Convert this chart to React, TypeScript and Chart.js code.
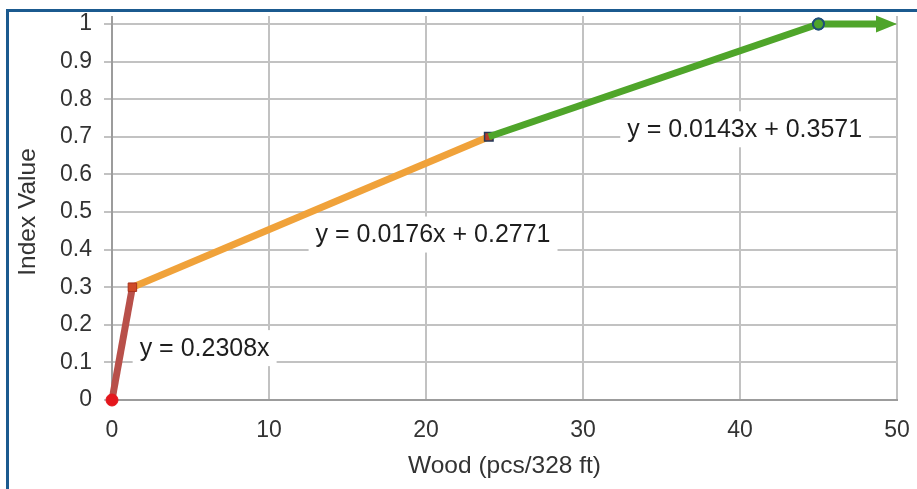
import React, { useEffect, useRef } from "react";
import { Chart, registerables } from "chart.js";

Chart.register(...registerables);

// ---- data ----
const redX = [0, 1.3];
const redY = [0, 0.3];
const orangeX = [1.3, 24];
const orangeY = [0.3, 0.7];
const greenX = [24, 45];
const greenY = [0.7, 1];
const arrowX = [45, 50];
const arrowY = [1, 1];
const equationTexts = ["y = 0.2308x", "y = 0.0176x + 0.2771", "y = 0.0143x + 0.3571"];
const xTicks = [0, 10, 20, 30, 40, 50];
const yTicks = [0, 0.1, 0.2, 0.3, 0.4, 0.5, 0.6, 0.7, 0.8, 0.9, 1];

const FONT = "'Liberation Sans', Arial, Helvetica, sans-serif";
const GRID = "#c2c2c2";
const AXIS = "#9c9c9c";
const RED = "#b8504a";
const ORANGE = "#f0a23a";
const GREEN = "#4fa52a";

const toPts = (xs: number[], ys: number[]) => xs.map((x, i) => ({ x, y: ys[i] }));

// annotation anchors (data coords)
const labelAnchors = [
  { x: 5.9, y: 0.138 },
  { x: 20.45, y: 0.44 },
  { x: 40.3, y: 0.72 },
];

const extrasPlugin = {
  id: "extras",
  beforeDatasetsDraw(chart: any) {
    const { ctx, chartArea, scales } = chart;
    const xs = scales.x;
    const ys = scales.y;
    ctx.save();
    ctx.lineWidth = 2;
    xTicks.forEach((t) => {
      const px = xs.getPixelForValue(t);
      ctx.strokeStyle = t === 0 ? AXIS : GRID;
      ctx.beginPath();
      ctx.moveTo(px, chartArea.top - 8);
      ctx.lineTo(px, chartArea.top);
      ctx.stroke();
    });
    ctx.font = `25px ${FONT}`;
    ctx.textAlign = "center";
    ctx.textBaseline = "middle";
    equationTexts.forEach((txt, i) => {
      const a = labelAnchors[i];
      const cx = xs.getPixelForValue(a.x);
      const cy = ys.getPixelForValue(a.y);
      const w = ctx.measureText(txt).width + 14;
      const h = 36;
      ctx.fillStyle = "#ffffff";
      ctx.fillRect(cx - w / 2, cy - h / 2, w, h);
      ctx.fillStyle = "#1e1e1e";
      ctx.fillText(txt, cx, cy + 1);
    });
    ctx.restore();
  },
  afterDatasetsDraw(chart: any) {
    const { ctx, scales } = chart;
    const xs = scales.x;
    const ys = scales.y;
    const x0 = xs.getPixelForValue(arrowX[0]);
    const y0 = ys.getPixelForValue(arrowY[0]);
    const x1 = xs.getPixelForValue(arrowX[1]);
    const y1 = ys.getPixelForValue(arrowY[1]);
    const headLen = 21;
    const headHalf = 8.5;
    ctx.save();
    ctx.strokeStyle = GREEN;
    ctx.lineWidth = 7;
    ctx.beginPath();
    ctx.moveTo(x0, y0);
    ctx.lineTo(x1 - headLen + 1, y1);
    ctx.stroke();
    ctx.fillStyle = GREEN;
    ctx.beginPath();
    ctx.moveTo(x1, y1);
    ctx.lineTo(x1 - headLen, y1 - headHalf);
    ctx.lineTo(x1 - headLen, y1 + headHalf);
    ctx.closePath();
    ctx.fill();
    ctx.beginPath();
    ctx.arc(x0, y0, 5.5, 0, Math.PI * 2);
    ctx.fillStyle = GREEN;
    ctx.fill();
    ctx.lineWidth = 2;
    ctx.strokeStyle = "#1f4e79";
    ctx.stroke();
    ctx.restore();
  },
};

export default function App() {
  const ref = useRef<HTMLCanvasElement | null>(null);

  useEffect(() => {
    if (!ref.current) return;
    const chart = new Chart(ref.current, {
      type: "scatter",
      data: {
        datasets: [
          {
            data: toPts(redX, redY),
            showLine: true,
            clip: false,
            borderColor: RED,
            borderWidth: 7,
            pointStyle: ["circle", "rect"],
            pointRadius: [6, 6],
            pointBackgroundColor: ["#e4161c", "#cf4a26"],
            pointBorderColor: ["#e4161c", "#a8321e"],
            pointBorderWidth: 1,
            order: 1,
          },
          {
            data: toPts(orangeX, orangeY),
            showLine: true,
            clip: false,
            borderColor: ORANGE,
            borderWidth: 7,
            pointStyle: ["rect", "rect"],
            pointRadius: [0, 6],
            pointBackgroundColor: ["#cf4a26", "#b53a2a"],
            pointBorderColor: ["#a8321e", "#243a5a"],
            pointBorderWidth: 1.5,
            order: 2,
          },
          {
            data: toPts(greenX, greenY),
            showLine: true,
            clip: false,
            borderColor: GREEN,
            borderWidth: 7,
            pointStyle: ["rect", "circle"],
            pointRadius: [0, 5.5],
            pointBackgroundColor: [GREEN, GREEN],
            pointBorderColor: ["#243a5a", "#1f4e79"],
            pointBorderWidth: 2,
            order: 0,
          },
        ],
      },
      options: {
        animation: false,
        responsive: false,
        maintainAspectRatio: false,
        layout: { padding: { top: 24, right: 20, left: 0, bottom: 0 } },
        plugins: {
          legend: { display: false },
          tooltip: { enabled: false },
        },
        scales: {
          x: {
            type: "linear",
            min: 0,
            max: 50,
            afterBuildTicks: (s: any) => {
              s.ticks = xTicks.map((v) => ({ value: v }));
            },
            afterFit: (s: any) => {
              s.height = 89;
              s.paddingLeft = 0;
              s.paddingRight = 0;
            },
            ticks: {
              color: "#333333",
              font: { family: FONT, size: 23 },
              padding: 17,
            },
            grid: { color: GRID, lineWidth: 2, drawTicks: false },
            border: { color: AXIS, width: 2 },
            title: {
              display: true,
              text: "Wood (pcs/328 ft)",
              color: "#333333",
              font: { family: FONT, size: 24.5 },
              padding: { top: 0, bottom: 8 },
            },
          },
          y: {
            type: "linear",
            min: 0,
            max: 1,
            afterBuildTicks: (s: any) => {
              s.ticks = yTicks.map((v) => ({ value: v }));
            },
            afterFit: (s: any) => {
              s.width = 112;
              s.paddingTop = 0;
              s.paddingBottom = 0;
            },
            ticks: {
              color: "#333333",
              font: { family: FONT, size: 23 },
              padding: 12,
              callback: (v: any) => String(Number(v)),
            },
            grid: { color: GRID, lineWidth: 2, tickLength: 8, tickColor: GRID },
            border: { color: AXIS, width: 2 },
            title: {
              display: true,
              text: "Index Value",
              color: "#333333",
              font: { family: FONT, size: 24.5 },
              padding: { top: 14, bottom: 0 },
            },
          },
        },
      },
      plugins: [extrasPlugin],
    });
    return () => chart.destroy();
  }, []);

  return (
    <div
      style={{
        position: "fixed",
        left: 0,
        top: 0,
        width: 917,
        height: 489,
        background: "#ffffff",
        overflow: "hidden",
      }}
    >
      <canvas ref={ref} width={917} height={489} style={{ position: "absolute", left: 0, top: 0 }} />
      <div
        style={{
          position: "absolute",
          left: 6,
          top: 9,
          width: 1000,
          height: 1000,
          borderLeft: "3px solid #1b5a8f",
          borderTop: "3px solid #1b5a8f",
          pointerEvents: "none",
        }}
      />
    </div>
  );
}
